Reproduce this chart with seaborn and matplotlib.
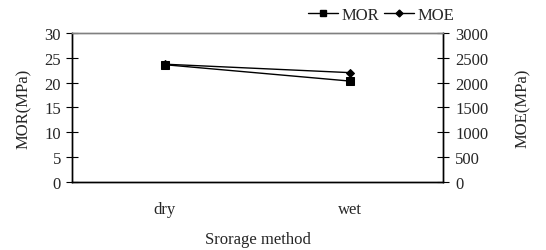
import matplotlib
matplotlib.use("Agg")
import matplotlib.pyplot as plt
from matplotlib.lines import Line2D
import seaborn as sns
import pandas as pd

# data
methods = ["dry", "wet"]
mor = [23.6, 20.3]
moe = [2370, 2200]

sns.set_theme(style="white")
plt.rcParams["font.family"] = ["Liberation Serif", "DejaVu Serif"]
FS = 12

df = pd.DataFrame({"method": methods, "MOR": mor, "MOE": moe})

fig = plt.figure(figsize=(5.46, 2.51), dpi=100)
ax = fig.add_axes([0.132, 0.271, 0.679, 0.594])
ax2 = ax.twinx()

sns.lineplot(data=df, x="method", y="MOR", ax=ax, color="black", lw=1,
             marker="s", markersize=5.5, markeredgecolor="black", sort=False)
sns.lineplot(data=df, x="method", y="MOE", ax=ax2, color="black", lw=1,
             marker="D", markersize=4, markeredgecolor="black", sort=False)

ax.set_xlim(-0.5, 1.5)
ax.set_ylim(0, 30)
ax2.set_ylim(0, 3000)
ax.set_yticks(range(0, 31, 5))
ax2.set_yticks(range(0, 3001, 500))

# category boundaries as major ticks, labels on minor ticks
ax.set_xticks([-0.5, 0.5, 1.5])
ax.set_xticklabels([])
ax.set_xticks([0, 1], minor=True)
ax.set_xticklabels(methods, minor=True)
ax.tick_params(axis="x", which="major", direction="inout", length=9, width=0.8, color="black")
ax.tick_params(axis="x", which="minor", length=0, pad=14, labelsize=FS)
ax.tick_params(axis="y", direction="inout", length=8, width=0.8, color="black",
               left=True, pad=4, labelsize=FS)
ax2.tick_params(axis="y", direction="inout", length=8, width=0.8, color="black",
                right=True, pad=5, labelsize=FS)

for a in (ax, ax2):
    for s in ("left", "bottom", "right"):
        a.spines[s].set_color("black")
        a.spines[s].set_linewidth(1)
    a.spines["top"].set_color("#808080")
    a.spines["top"].set_linewidth(1)

ax.set_xlabel("Srorage method", fontsize=FS, labelpad=10)
ax.set_ylabel("MOR(MPa)", fontsize=FS, labelpad=9)
ax2.set_ylabel("MOE(MPa)", fontsize=FS, labelpad=19)

handles = [
    Line2D([], [], color="black", lw=1, marker="s", markersize=5),
    Line2D([], [], color="black", lw=1, marker="D", markersize=3.5),
]
fig.legend(handles, ["MOR", "MOE"], loc="center", bbox_to_anchor=(0.698, 0.937),
           ncol=2, frameon=False, handlelength=1.8, handletextpad=0.2,
           columnspacing=0.3, fontsize=FS)

fig.savefig("out.png", dpi=100)
